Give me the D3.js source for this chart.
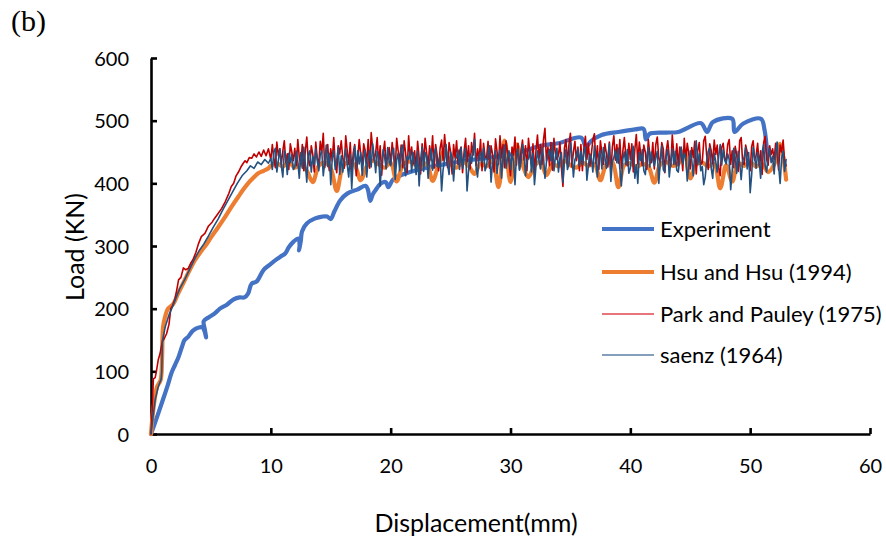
<!DOCTYPE html>
<html>
<head>
<meta charset="utf-8">
<script src="https://cdn.jsdelivr.net/npm/d3@7"></script>
<style>
  body { margin: 0; background: #fff; }
  svg text { font-family: Lato, "Open Sans", sans-serif; fill: #000; }
</style>
</head>
<body>
<div class="canvas"></div>
<script>
// axis ticks
const xTicks = [0, 10, 20, 30, 40, 50, 60];
const yTicks = [0, 100, 200, 300, 400, 500, 600];

// series names (legend order = draw order)
const seriesNames = ['Experiment', 'Hsu and Hsu (1994)', 'Park and Pauley (1975)', 'saenz (1964)'];

// Experiment [displacement mm, load kN]
const experiment = [
  [0,0],[0.5,27],[1.0,55],[1.4,78],[1.7,97],[2.0,110],[2.3,123],[2.6,140],[2.8,150],[3.1,155],[3.5,165],[4.0,170],
  [4.3,170],[4.5,162],[4.6,154],[4.5,166],[4.4,180],[4.8,186],[5.3,192],[5.75,200],[6.3,206],[6.9,215],[7.4,218],[7.8,218],
  [8.1,224],[8.4,240],[8.8,243],[9.4,262],[9.9,270],[10.5,279],[10.8,283],[11.2,288],[11.5,298],[11.9,307],[12.3,312],
  [12.4,300],[12.35,293],[12.5,308],[12.6,323],[13.0,336],[13.7,344],[14.3,347],[14.7,347],[15.0,343],[15.3,355],[15.8,373],
  [16.4,384],[17.2,390],[17.9,396],[18.1,390],[18.3,372],[18.5,382],[18.7,388],[19.2,400],[19.6,402],[19.8,394],[20.2,406],
  [21,414],[23,425],[25,432],[27,438],[29,443],[30.5,448],[31.5,454],[32.5,460],[34,464],[35.9,473],[36.3,458],[36.7,467],
  [37.6,477],[39,482],[40.4,486],[41.1,487],[41.3,470],[41.6,479],[43,481],[44,482],[45.9,496],[46.4,482],[46.9,498],
  [48.5,503],[48.7,482],[49.4,495],[50.9,503],[51.2,485],[51.4,455],[51.5,445]
];

// Hsu and Hsu (1994)
const hsuRise = [
  [0,0],[0.2,40],[0.5,75],[0.8,86],[0.92,120],[1.0,170],[1.15,185],[1.42,200],[1.84,207],[2.26,224],[2.8,245],
  [3.65,277],[4.2,292],[4.6,302],[5.05,315],[5.6,330],[6.2,347],[6.7,362],[7.3,379],[7.7,390],[8.1,400],[8.5,408],
  [8.95,416],[9.4,420],[9.8,424]
];
const hsuDisp = [
  10,10.5,11,11.5,12,12.5,13,13.5,14,14.5,15,15.5,16,16.5,17,17.5,18,18.5,19,19.5,20,20.5,21,21.5,22,22.5,23,23.5,
  24,24.5,25,25.5,26,26.5,27,27.5,28,28.5,29,29.5,30,30.5,31,31.5,32,32.5,33,33.5,34,34.5,35,35.5,36,36.5,37,37.5,
  38,38.5,39,39.5,40,40.5,41,41.5,42,42.5,43,43.5,44,44.5,45,45.5,46,46.5,47,47.5,48,48.5,49,49.5,50,50.5,51,51.5,
  52,52.5,53
];
const hsuLoad = [
  428,432,427,434,425,430,420,402,428,433,424,388,426,434,429,405,427,436,430,425,433,403,428,435,430,426,432,404,
  430,452,431,425,434,428,415,432,427,436,394,468,402,462,430,410,428,434,413,431,427,436,429,425,433,428,431,405,
  430,434,394,429,432,426,431,427,401,430,434,428,431,452,408,430,433,427,431,392,429,403,432,428,434,427,431,418,
  430,463,406
];

// Park and Pauley (1975) + saenz (1964) share the plateau sampling
const plateauDisp = [
  10,10.125,10.25,10.375,10.5,10.625,10.75,10.875,11,11.125,11.25,11.375,11.5,11.625,11.75,11.875,
  12,12.125,12.25,12.375,12.5,12.625,12.75,12.875,13,13.125,13.25,13.375,13.5,13.625,13.75,13.875,
  14,14.125,14.25,14.375,14.5,14.625,14.75,14.875,15,15.125,15.25,15.375,15.5,15.625,15.75,15.875,
  16,16.125,16.25,16.375,16.5,16.625,16.75,16.875,17,17.125,17.25,17.375,17.5,17.625,17.75,17.875,
  18,18.125,18.25,18.375,18.5,18.625,18.75,18.875,19,19.125,19.25,19.375,19.5,19.625,19.75,19.875,
  20,20.125,20.25,20.375,20.5,20.625,20.75,20.875,21,21.125,21.25,21.375,21.5,21.625,21.75,21.875,
  22,22.125,22.25,22.375,22.5,22.625,22.75,22.875,23,23.125,23.25,23.375,23.5,23.625,23.75,23.875,
  24,24.125,24.25,24.375,24.5,24.625,24.75,24.875,25,25.125,25.25,25.375,25.5,25.625,25.75,25.875,
  26,26.125,26.25,26.375,26.5,26.625,26.75,26.875,27,27.125,27.25,27.375,27.5,27.625,27.75,27.875,
  28,28.125,28.25,28.375,28.5,28.625,28.75,28.875,29,29.125,29.25,29.375,29.5,29.625,29.75,29.875,
  30,30.125,30.25,30.375,30.5,30.625,30.75,30.875,31,31.125,31.25,31.375,31.5,31.625,31.75,31.875,
  32,32.125,32.25,32.375,32.5,32.625,32.75,32.875,33,33.125,33.25,33.375,33.5,33.625,33.75,33.875,
  34,34.125,34.25,34.375,34.5,34.625,34.75,34.875,35,35.125,35.25,35.375,35.5,35.625,35.75,35.875,
  36,36.125,36.25,36.375,36.5,36.625,36.75,36.875,37,37.125,37.25,37.375,37.5,37.625,37.75,37.875,
  38,38.125,38.25,38.375,38.5,38.625,38.75,38.875,39,39.125,39.25,39.375,39.5,39.625,39.75,39.875,
  40,40.125,40.25,40.375,40.5,40.625,40.75,40.875,41,41.125,41.25,41.375,41.5,41.625,41.75,41.875,
  42,42.125,42.25,42.375,42.5,42.625,42.75,42.875,43,43.125,43.25,43.375,43.5,43.625,43.75,43.875,
  44,44.125,44.25,44.375,44.5,44.625,44.75,44.875,45,45.125,45.25,45.375,45.5,45.625,45.75,45.875,
  46,46.125,46.25,46.375,46.5,46.625,46.75,46.875,47,47.125,47.25,47.375,47.5,47.625,47.75,47.875,
  48,48.125,48.25,48.375,48.5,48.625,48.75,48.875,49,49.125,49.25,49.375,49.5,49.625,49.75,49.875,
  50,50.125,50.25,50.375,50.5,50.625,50.75,50.875,51,51.125,51.25,51.375,51.5,51.625,51.75,51.875,
  52,52.125,52.25,52.375,52.5,52.625,52.75,52.875,53
];

const parkRise = [
  [0,0],[0.1,40],[0.2,88],[0.35,90],[0.45,100],[0.6,118],[0.75,128],[0.95,148],[1.1,152],[1.3,160],[1.5,175],[1.65,200],
  [1.8,205],[2.0,216],[2.15,230],[2.3,246],[2.5,250],[2.7,265],[2.9,262],[3.1,264],[3.3,272],[3.5,278],[3.75,290],
  [3.95,303],[4.2,315],[4.5,320],[4.8,332],[5.1,338],[5.3,344],[5.6,352],[5.9,360],[6.2,371],[6.5,384],[6.7,395],
  [6.9,400],[7.1,412],[7.3,418],[7.5,426],[7.7,432],[7.85,436],[8.0,433],[8.2,441],[8.4,440],[8.6,447],[8.8,442],
  [9.0,450],[9.2,443],[9.4,453],[9.6,444],[9.8,455]
];
const parkLoad = [
  438,462,441,425,466,444,455,430,452,468,433,447,422,463,450,436,
  456,428,470,441,430,462,420,451,474,437,428,460,446,418,466,440,
  430,467,449,480,425,446,462,420,455,436,473,431,417,460,447,468,
  441,424,476,452,430,465,418,448,462,412,437,470,447,426,463,452,
  432,470,424,481,455,436,449,473,429,460,413,448,467,425,446,457,
  430,465,444,420,472,452,436,461,425,468,448,417,476,440,458,431,
  452,423,467,441,415,463,432,472,449,428,460,437,476,424,462,445,
  420,456,469,436,478,447,425,465,450,415,462,440,468,430,451,458,
  417,450,472,434,460,423,465,445,480,428,455,438,470,420,464,443,
  440,467,424,460,447,418,471,451,430,476,441,462,425,468,449,435,
  412,458,445,474,429,464,422,451,469,437,460,420,472,446,431,463,
  418,452,477,439,462,430,469,488,436,458,428,465,421,472,447,438,
  445,465,424,395,456,470,431,461,480,426,450,467,436,458,420,462,
  420,456,475,438,464,428,447,470,479,432,460,422,468,449,430,463,
  448,426,466,415,458,476,437,462,432,470,424,451,473,443,428,464,
  438,463,418,454,478,431,466,445,428,461,450,422,470,446,433,465,
  423,462,474,440,433,465,455,417,452,468,441,427,477,447,431,463,
  428,458,450,420,472,437,464,447,423,457,441,467,415,452,465,430,
  433,468,475,444,422,463,452,431,469,446,461,425,412,457,464,440,
  436,462,470,430,452,425,459,446,419,468,473,433,430,461,450,438,
  420,459,468,437,445,464,428,452,414,465,475,438,429,460,446,455,
  438,464,447,421,461,450,469,436,428
];

const saenzRise = [
  [0,0],[0.15,25],[0.35,55],[0.6,75],[0.85,88],[0.9,100],[0.95,148],[1.2,172],[1.5,190],[1.8,203],[2.1,218],
  [2.4,232],[2.8,246],[3.2,262],[3.6,278],[4.0,292],[4.4,303],[4.8,316],[5.2,330],[5.6,343],[6.0,358],[6.4,372],
  [6.8,386],[7.2,400],[7.6,412],[8.0,420],[8.3,428],[8.6,424],[8.9,434],[9.2,430],[9.5,438],[9.8,432]
];
const saenzLoad = [
  440,422,450,456,418,436,455,428,410,452,442,414,448,433,446,422,
  426,451,435,408,449,424,458,433,402,445,452,418,443,430,455,436,
  420,446,452,412,434,461,427,448,398,440,452,422,437,457,414,444,
  418,440,455,430,410,446,392,436,459,423,452,431,449,413,441,453,
  410,438,452,426,463,443,417,451,442,396,432,454,441,423,457,434,
  428,450,456,406,437,448,420,455,461,430,412,443,438,452,418,449,
  433,414,451,396,437,458,419,449,443,408,435,455,421,447,456,427,
  426,444,388,422,438,462,431,414,450,441,404,437,442,453,422,457,
  424,441,456,388,420,447,432,452,470,427,410,443,450,433,456,420,
  428,449,460,402,432,442,452,416,438,454,408,444,461,424,441,452,
  422,447,436,398,446,455,421,433,462,449,412,437,439,454,418,448,
  398,427,452,437,423,458,443,408,434,445,454,436,463,420,443,456,
  418,441,449,401,437,454,422,430,465,446,410,438,443,455,428,451,
  430,449,458,405,428,447,440,418,460,437,410,445,452,423,457,442,
  424,443,463,403,435,441,452,433,456,423,396,439,450,430,454,416,
  424,447,459,408,430,400,449,436,454,420,414,443,457,426,450,437,
  428,441,451,400,436,460,422,418,444,454,410,435,455,430,451,421,
  418,439,458,431,448,441,404,428,452,438,412,448,468,430,447,420,
  427,398,410,437,451,457,424,408,448,435,418,443,462,429,453,437,
  431,447,438,390,420,456,441,416,451,432,406,436,442,457,423,449,
  385,414,457,441,424,449,437,408,450,462,428,418,446,455,433,443,
  415,449,466,428,400,440,451,419,438
];

const dims = { width: 886, height: 540 };

const svg = d3.select('.canvas')
  .append('svg')
  .attr('width', dims.width)
  .attr('height', dims.height);

const x = d3.scaleLinear().domain([0, 60]).range([151, 870]);
const y = d3.scaleLinear().domain([0, 600]).range([434, 58]);

// axes (ticks point inward like the Excel original)
const xAxis = d3.axisBottom(x).tickValues(xTicks).tickSizeInner(-6).tickSizeOuter(0).tickPadding(0);
const yAxis = d3.axisLeft(y).tickValues(yTicks).tickSizeInner(-6).tickSizeOuter(0).tickPadding(0);

const gx = svg.append('g').attr('transform', `translate(0, ${y(0)})`).call(xAxis);
const gy = svg.append('g').attr('transform', `translate(${x(0)}, 0)`).call(yAxis);

[gx, gy].forEach(g => {
  g.select('.domain').attr('stroke', '#000').attr('stroke-width', 2.6);
  g.selectAll('.tick line').attr('stroke', '#000').attr('stroke-width', 2.6);
  g.selectAll('.tick text').style('font-family', 'Lato').style('font-size', '20px');
});
gx.selectAll('.tick text').attr('y', 32).attr('dy', '0.35em');
gy.selectAll('.tick text').attr('x', -22).attr('dy', '0.35em');

// series
const line = d3.line().x(d => x(d[0])).y(d => y(d[1]));
const smooth = d3.line().x(d => x(d[0])).y(d => y(d[1])).curve(d3.curveCatmullRom.alpha(0.5));

const joinPlateau = (rise, disp, loads) =>
  rise.concat(disp.map((d, i) => [d, loads[i]]).filter(p => p[1] !== undefined));

const hsu = joinPlateau(hsuRise, hsuDisp, hsuLoad);
const park = joinPlateau(parkRise, plateauDisp, parkLoad);
const saenz = joinPlateau(saenzRise, plateauDisp, saenzLoad);

const series = [
  { name: seriesNames[0], data: experiment, colour: '#4472C4', width: 4.2, gen: smooth },
  { name: seriesNames[1], data: hsu, colour: '#ED7D31', width: 4.2, gen: smooth },
  { name: seriesNames[2], data: park, colour: '#C00000', width: 1.6, gen: line },
  { name: seriesNames[3], data: saenz, colour: '#24517F', width: 1.6, gen: line }
];

svg.append('g').selectAll('path')
  .data(series)
  .enter()
  .append('path')
    .attr('fill', 'none')
    .attr('stroke', d => d.colour)
    .attr('stroke-width', d => d.width)
    .attr('stroke-linejoin', 'round')
    .attr('stroke-linecap', 'round')
    .attr('d', d => d.gen(d.data));

// legend
const legendRows = [229, 272, 314, 355];
const legendWidths = [4.2, 4.2, 1.3, 1.3];
const legendColours = ['#4472C4', '#ED7D31', '#E0474C', '#5B7FA6'];
const legend = svg.append('g');
seriesNames.forEach((name, i) => {
  legend.append('line')
    .attr('x1', 602).attr('x2', 654)
    .attr('y1', legendRows[i]).attr('y2', legendRows[i])
    .attr('stroke', legendColours[i])
    .attr('stroke-width', legendWidths[i]);
  legend.append('text')
    .attr('x', 660).attr('y', legendRows[i])
    .attr('dy', '0.35em')
    .style('font-size', '22px')
    .text(name);
});

// axis titles
svg.append('text')
  .attr('x', 476).attr('y', 523)
  .attr('dy', '0.35em')
  .attr('text-anchor', 'middle')
  .style('font-size', '25px')
  .text('Displacement(mm)');

svg.append('text')
  .attr('transform', 'translate(75, 247) rotate(-90)')
  .attr('dy', '0.35em')
  .attr('text-anchor', 'middle')
  .style('font-size', '25px')
  .text('Load (KN)');

// panel label
svg.append('text')
  .attr('x', 11).attr('y', 31)
  .style('font-family', '"Liberation Serif", "DejaVu Serif", serif')
  .style('font-size', '30px')
  .text('(b)');
</script>
</body>
</html>
